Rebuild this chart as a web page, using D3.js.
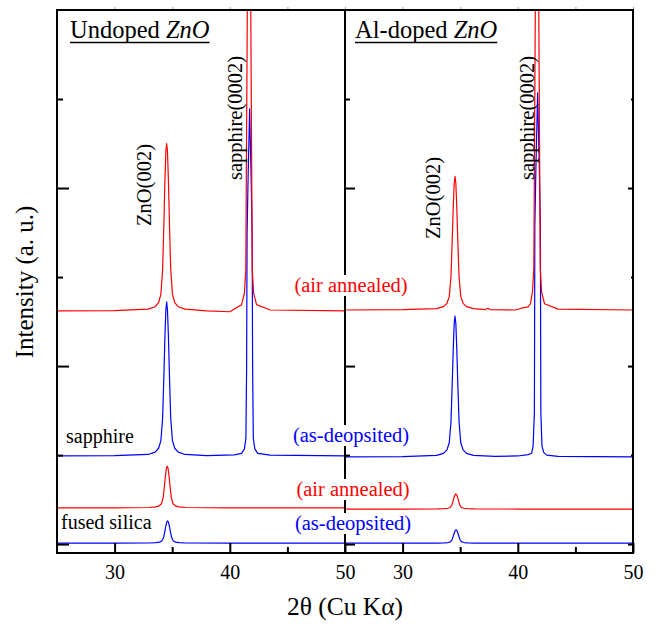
<!DOCTYPE html>
<html>
<head>
<meta charset="utf-8">
<script src="https://cdn.jsdelivr.net/npm/d3@7"></script>
<style>
  body { margin: 0; background: #fff; }
  text { font-family: "Liberation Serif", "Times New Roman", Times, serif; }
</style>
</head>
<body>
<div id="chart"></div>
<script>
// ---- data: [2theta, intensity above the trace's own baseline] ----
const undopedSilicaAsDep = [[25,0],[30,0],[33.0,0.0025],[33.6,0.006],[33.9,0.0125],[34.1,0.025],[34.25,0.063],[34.35,0.125],[34.45,0.195],[34.53,0.238],[34.6,0.25],[34.67,0.238],[34.75,0.195],[34.85,0.125],[34.95,0.063],[35.1,0.025],[35.3,0.0125],[35.6,0.006],[36.2,0.0025],[40,0],[45,0],[50,0]];
const undopedSilicaAnneal = [[25,0],[30,0],[32.97,0.005],[33.57,0.012],[33.87,0.024],[34.07,0.047],[34.22,0.118],[34.32,0.235],[34.42,0.367],[34.5,0.447],[34.57,0.47],[34.64,0.447],[34.72,0.367],[34.82,0.235],[34.92,0.118],[35.07,0.047],[35.27,0.024],[35.57,0.012],[36.17,0.005],[40,0],[45,0],[50,0]];
const undopedSapphireAsDep = [[25,0],[30,0.003],[32.92,0.017],[33.52,0.043],[33.82,0.087],[34.02,0.173],[34.17,0.43],[34.27,0.865],[34.37,1.35],[34.45,1.64],[34.52,1.73],[34.59,1.64],[34.67,1.35],[34.77,0.865],[34.87,0.43],[35.02,0.173],[35.22,0.087],[35.52,0.043],[36.12,0.017],[38,0.005],[40.4,0.012],[41.02,0.03],[41.27,0.08],[41.4,0.2],[41.46,1.0],[41.5,2.5],[41.6,3.2],[41.67,3.6],[41.72,3.9],[41.77,3.6],[41.84,3.2],[41.94,2.5],[41.98,1.0],[42.04,0.2],[42.17,0.08],[42.42,0.03],[43.5,0.01],[50,0]];
const undopedSapphireAnneal = [[25,0],[30,0.003],[32.92,0.019],[33.52,0.047],[33.82,0.094],[34.02,0.188],[34.17,0.47],[34.27,0.94],[34.37,1.47],[34.45,1.79],[34.52,1.88],[34.59,1.79],[34.67,1.47],[34.77,0.94],[34.87,0.47],[35.02,0.188],[35.22,0.094],[35.52,0.047],[36.12,0.019],[38,0],[40,-0.01],[41.02,0.07],[41.27,0.2],[41.39,0.46],[41.52,3.4],[41.6,8],[41.67,12],[41.74,8],[41.82,3.4],[41.95,0.46],[42.07,0.2],[42.32,0.07],[43.5,0.01],[50,0]];

const alSilicaAsDep = [[25,0],[30,0],[33.04,0.0015],[33.64,0.004],[33.94,0.0075],[34.14,0.015],[34.29,0.0375],[34.39,0.075],[34.49,0.117],[34.57,0.1425],[34.64,0.15],[34.71,0.1425],[34.79,0.117],[34.89,0.075],[34.99,0.0375],[35.14,0.015],[35.34,0.0075],[35.64,0.004],[36.24,0.0015],[40,0],[45,0],[50,0]];
const alSilicaAnneal = [[25,0],[30,0],[33.02,0.0017],[33.62,0.004],[33.92,0.0085],[34.12,0.017],[34.27,0.0425],[34.37,0.085],[34.47,0.133],[34.55,0.16],[34.62,0.17],[34.69,0.16],[34.77,0.133],[34.87,0.085],[34.97,0.0425],[35.12,0.017],[35.32,0.0085],[35.62,0.004],[36.22,0.0017],[40,0],[45,0],[50,0]];
const alSapphireAsDep = [[25,0],[30,0.003],[32.95,0.016],[33.55,0.04],[33.85,0.079],[34.05,0.158],[34.2,0.395],[34.3,0.79],[34.4,1.23],[34.48,1.5],[34.55,1.58],[34.62,1.5],[34.7,1.23],[34.8,0.79],[34.9,0.395],[35.05,0.158],[35.25,0.079],[35.55,0.04],[36.15,0.016],[38,0.005],[40.0,0.01],[40.9,0.025],[41.2,0.04],[41.33,0.12],[41.44,0.5],[41.48,2.6],[41.58,3.3],[41.67,3.8],[41.72,4.09],[41.77,3.8],[41.86,3.3],[41.96,2.6],[42.0,0.5],[42.1,0.12],[42.25,0.05],[42.5,0.02],[43.5,0.005],[50,0]];
const alSapphireAnneal = [[25,0],[30,0.003],[32.95,0.015],[33.55,0.0375],[33.85,0.075],[34.05,0.15],[34.2,0.375],[34.3,0.75],[34.4,1.17],[34.48,1.425],[34.55,1.5],[34.62,1.425],[34.7,1.17],[34.8,0.75],[34.9,0.375],[35.05,0.15],[35.25,0.075],[35.55,0.0375],[36.15,0.015],[37.2,0.005],[37.4,0.02],[37.6,0.005],[39.8,0],[40.3,0.02],[40.9,0.035],[41.1,0.07],[41.27,0.2],[41.39,0.46],[41.52,3.4],[41.6,8],[41.67,12],[41.74,8],[41.82,3.4],[41.95,0.46],[42.07,0.2],[42.32,0.07],[43.5,0.01],[50,0]];

// vertical offsets of the stacked traces (silica as-dep, silica annealed, sapphire as-dep, sapphire annealed)
const undopedOffsets = [0.01, 0.406, 0.99, 2.62];
const alOffsets = [0.01, 0.394, 0.98, 2.63];
const traceColors = ["#0000ff", "#ff0000", "#0000ff", "#ff0000"];

const panelTitles = ["Undoped ", "Al-doped "];
const xMajorTicks = [30, 40, 50];
const xMinorTicks = [35, 45];
const yMajorTicks = [0, 2, 4];
const yMinorTicks = [1, 3, 5];

const panels = [
  { title: panelTitles[0], traces: [undopedSilicaAsDep, undopedSilicaAnneal, undopedSapphireAsDep, undopedSapphireAnneal], offsets: undopedOffsets },
  { title: panelTitles[1], traces: [alSilicaAsDep, alSilicaAnneal, alSapphireAsDep, alSapphireAnneal], offsets: alOffsets }
];

// ---- layout ----
const width = 657, height = 626;
const margin = { left: 57, top: 10 };
const panelW = 288, panelH = 543;
const bottom = margin.top + panelH;

const svg = d3.select("#chart").append("svg")
  .attr("width", width)
  .attr("height", height);

const y = d3.scaleLinear().domain([-0.1, 6.0]).range([bottom, margin.top]);

panels.forEach((p, i) => {
  const x0 = margin.left + i * panelW;
  const x = d3.scaleLinear().domain([25, 50]).range([x0, x0 + panelW]);

  svg.append("clipPath").attr("id", "clip" + i)
    .append("rect").attr("x", x0).attr("y", margin.top).attr("width", panelW).attr("height", panelH);

  const g = svg.append("g").attr("clip-path", "url(#clip" + i + ")");

  p.traces.forEach((t, k) => {
    const line = d3.line()
      .x(d => x(d[0]))
      .y(d => y(d[1] + p.offsets[k]));
    g.append("path")
      .attr("d", line(t))
      .attr("fill", "none")
      .attr("stroke", traceColors[k])
      .attr("stroke-width", 1.2)
      .attr("stroke-linejoin", "round");
  });

  // bottom axis
  svg.append("g").attr("transform", "translate(0," + bottom + ")")
    .call(d3.axisBottom(x).tickValues(xMajorTicks).tickSizeInner(-10).tickSizeOuter(0).tickPadding(12));
  svg.append("g").attr("transform", "translate(0," + bottom + ")")
    .call(d3.axisBottom(x).tickValues(xMinorTicks).tickSizeInner(-6).tickSizeOuter(0).tickFormat(""));
  // top ticks (small, outward)
  svg.append("g").attr("class", "top").attr("transform", "translate(0," + margin.top + ")")
    .call(d3.axisTop(x).tickValues(xMajorTicks.concat(xMinorTicks)).tickSizeInner(3).tickSizeOuter(0).tickFormat(""));

  // left ticks of the panel
  const lMaj = i === 0 ? 12 : 10, lMin = i === 0 ? 6 : 5;
  svg.append("g").attr("transform", "translate(" + x0 + ",0)")
    .call(d3.axisRight(y).tickValues(yMajorTicks).tickSizeInner(lMaj).tickSizeOuter(0).tickFormat(""));
  svg.append("g").attr("transform", "translate(" + x0 + ",0)")
    .call(d3.axisRight(y).tickValues(yMinorTicks).tickSizeInner(lMin).tickSizeOuter(0).tickFormat(""));
  if (i === 1) {
    svg.append("g").attr("transform", "translate(" + (x0 + panelW) + ",0)")
      .call(d3.axisLeft(y).tickValues(yMajorTicks).tickSizeInner(5).tickSizeOuter(0).tickFormat(""));
    svg.append("g").attr("transform", "translate(" + (x0 + panelW) + ",0)")
      .call(d3.axisLeft(y).tickValues(yMinorTicks).tickSizeInner(2).tickSizeOuter(0).tickFormat(""));
  }

  // frame
  svg.append("rect")
    .attr("x", x0).attr("y", margin.top)
    .attr("width", panelW).attr("height", panelH)
    .attr("fill", "none").attr("stroke", "#000").attr("stroke-width", 2);

  // panel title, underlined
  const tx = x0 + (i === 0 ? 13 : 10);
  const tt = svg.append("text")
    .attr("x", tx).attr("y", 38)
    .attr("font-size", 24.5);
  tt.append("tspan").text(p.title);
  tt.append("tspan").attr("font-style", "italic").text("ZnO");
  const tlen = tt.node().getComputedTextLength();
  svg.append("line")
    .attr("x1", tx).attr("x2", tx + tlen)
    .attr("y1", 42.5).attr("y2", 42.5)
    .attr("stroke", "#000").attr("stroke-width", 1.5);

  // peak labels (rotated)
  const peakLabel = (px, py, txt) => svg.append("text")
    .attr("transform", "translate(" + px + "," + py + ") rotate(-90)")
    .attr("text-anchor", "middle")
    .attr("font-size", 20.5)
    .text(txt);
  if (i === 0) {
    peakLabel(151, 185, "ZnO(002)");
    peakLabel(242, 118, "sapphire(0002)");
  } else {
    peakLabel(440, 198, "ZnO(002)");
    peakLabel(534, 118, "sapphire(0002)");
  }
});

svg.selectAll(".domain").remove();
svg.selectAll(".tick line").attr("stroke", "#000").attr("stroke-width", 2);
svg.selectAll(".top .tick line").attr("stroke", "#999").attr("stroke-width", 1);
svg.selectAll(".tick text").attr("font-size", 20).attr("fill", "#000")
  .attr("font-family", "\"Liberation Serif\", \"Times New Roman\", serif");

// sample labels on the left
const sampleLabels = [["sapphire", 66, 443], ["fused silica", 61, 529]];
sampleLabels.forEach(s => {
  svg.append("text").attr("x", s[1]).attr("y", s[2]).attr("font-size", 20).text(s[0]);
});

// treatment labels across the panel divide (white boxes)
const treatLabels = [
  ["(air annealed)", 351, 292, "#ff0000"],
  ["(as-deopsited)", 351, 442, "#0000ff"],
  ["(air annealed)", 353, 496, "#ff0000"],
  ["(as-deopsited)", 353, 530, "#0000ff"]
];
treatLabels.forEach(l => {
  const gl = svg.append("g");
  const r = gl.append("rect").attr("fill", "#fff");
  const t = gl.append("text")
    .attr("x", l[1]).attr("y", l[2])
    .attr("text-anchor", "middle")
    .attr("font-size", 20.5)
    .attr("fill", l[3])
    .text(l[0]);
  const b = t.node().getBBox();
  r.attr("x", b.x - 1).attr("y", b.y + 1).attr("width", b.width + 2).attr("height", b.height - 2);
});

// axis titles
svg.append("text")
  .attr("transform", "translate(33,282) rotate(-90)")
  .attr("text-anchor", "middle")
  .attr("font-size", 25)
  .text("Intensity (a. u.)");

svg.append("text")
  .attr("x", 345).attr("y", 615)
  .attr("text-anchor", "middle")
  .attr("font-size", 25.5)
  .text("2θ (Cu Kα)");
</script>
</body>
</html>
